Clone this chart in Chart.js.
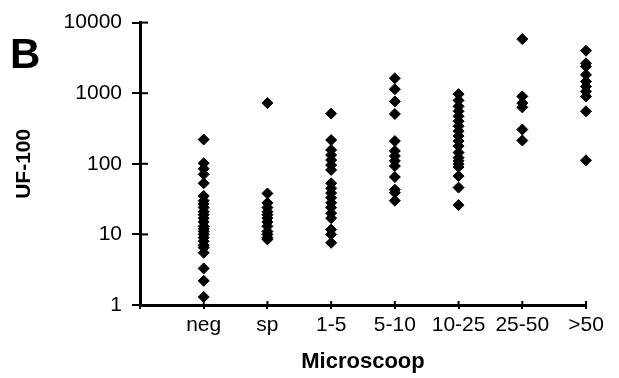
<!DOCTYPE html>
<html>
<head>
<meta charset="utf-8">
<script src="https://cdn.jsdelivr.net/npm/chart.js@4/dist/chart.umd.min.js"></script>
<style>
html,body{margin:0;padding:0;background:#fff;}
#c{display:block;}
</style>
</head>
<body>
<canvas id="c" width="619" height="378" style="width:619px;height:378px"></canvas>
<script>
const categories = ['neg', 'sp', '1-5', '5-10', '10-25', '25-50', '>50'];
const yTickValues = [1, 10, 100, 1000, 10000];
const panelLabel = 'B';
const xTitle = 'Microscoop';
const yTitle = 'UF-100';

const negValues = [221, 102, 85, 71, 53, 35, 30, 27, 24, 21, 19, 17, 15, 13, 12, 11, 10, 9, 8, 7, 6.5, 5.5, 3.3, 2.2, 1.3];
const spValues = [725, 38, 28, 24, 21, 19, 17, 15, 13, 11, 10, 9, 8.5];
const v1to5Values = [514, 217, 157, 133, 113, 96, 82, 53, 45, 38.5, 33, 28, 24, 20, 17, 11.7, 10, 7.6];
const v5to10Values = [1630, 1140, 765, 508, 210, 152, 129, 110, 93, 65, 43, 39, 30];
const v10to25Values = [970, 791, 651, 554, 471, 401, 341, 290, 247, 210, 178, 144, 122, 110, 99, 90, 67, 46, 26];
const v25to50Values = [5840, 901, 725, 630, 306, 214];
const over50Values = [4000, 2650, 2380, 1820, 1465, 1245, 1060, 901, 554, 112];

const seriesValues = [negValues, spValues, v1to5Values, v5to10Values, v10to25Values, v25to50Values, over50Values];

const FONT = "'Liberation Sans', Arial, Helvetica, sans-serif";

const datasets = seriesValues.map((vals, i) => ({
  label: categories[i],
  data: vals.map(v => ({ x: i + 1, y: v })),
  pointStyle: 'rectRot',
  pointRadius: 5.5,
  pointBackgroundColor: '#000',
  pointBorderColor: '#000',
  pointBorderWidth: 1,
  showLine: false,
  clip: false
}));

const innerTicks = {
  id: 'innerTicks',
  afterDraw(chart) {
    const ctx = chart.ctx;
    const xs = chart.scales.x, ys = chart.scales.y;
    const area = chart.chartArea;
    ctx.save();
    ctx.strokeStyle = '#000';
    ctx.lineWidth = 2;
    ys.ticks.forEach(t => {
      const y = ys.getPixelForValue(t.value);
      ctx.beginPath();
      ctx.moveTo(area.left, y);
      ctx.lineTo(area.left + 8, y);
      ctx.stroke();
    });
    xs.ticks.forEach(t => {
      const x = xs.getPixelForValue(t.value);
      ctx.beginPath();
      ctx.moveTo(x, area.bottom);
      ctx.lineTo(x, area.bottom - 4);
      ctx.stroke();
    });
    ctx.fillStyle = '#000';
    ctx.font = 'bold 42px ' + FONT;
    ctx.textBaseline = 'alphabetic';
    ctx.textAlign = 'left';
    ctx.fillText(panelLabel, 10, 68);
    ctx.restore();
  }
};

new Chart(document.getElementById('c'), {
  type: 'scatter',
  data: { datasets },
  plugins: [innerTicks],
  options: {
    responsive: false,
    animation: false,
    layout: { padding: { top: 21, right: 33, left: 0, bottom: 0 } },
    plugins: { legend: { display: false }, tooltip: { enabled: false } },
    scales: {
      x: {
        type: 'linear',
        min: 0,
        max: categories.length,
        afterBuildTicks: s => { s.ticks = [0, 1, 2, 3, 4, 5, 6, 7].map(v => ({ value: v })); },
        afterFit: s => { s.height = 73; },
        ticks: {
          callback: v => categories[v - 1] || '',
          font: { size: 21, family: FONT },
          color: '#000',
          padding: 4,
          maxRotation: 0,
          autoSkip: false
        },
        grid: { display: true, drawOnChartArea: false, tickLength: 4, color: '#000', lineWidth: 2 },
        border: { color: '#000', width: 3 },
        title: { display: true, text: xTitle, color: '#000', font: { size: 22, weight: 'bold', family: FONT }, padding: { top: 4, bottom: 3 } }
      },
      y: {
        type: 'logarithmic',
        min: 1,
        max: 10000,
        afterBuildTicks: s => { s.ticks = yTickValues.map(v => ({ value: v })); },
        afterFit: s => { s.width = 140; },
        ticks: {
          callback: v => String(v),
          font: { size: 21, family: FONT },
          color: '#000',
          padding: 10
        },
        grid: { display: true, drawOnChartArea: false, tickLength: 8, color: '#000', lineWidth: 2 },
        border: { color: '#000', width: 3 },
        title: { display: true, text: yTitle, color: '#000', font: { size: 21, weight: 'bold', family: FONT }, padding: { top: 12, bottom: 12 } }
      }
    }
  }
});
</script>
</body>
</html>
